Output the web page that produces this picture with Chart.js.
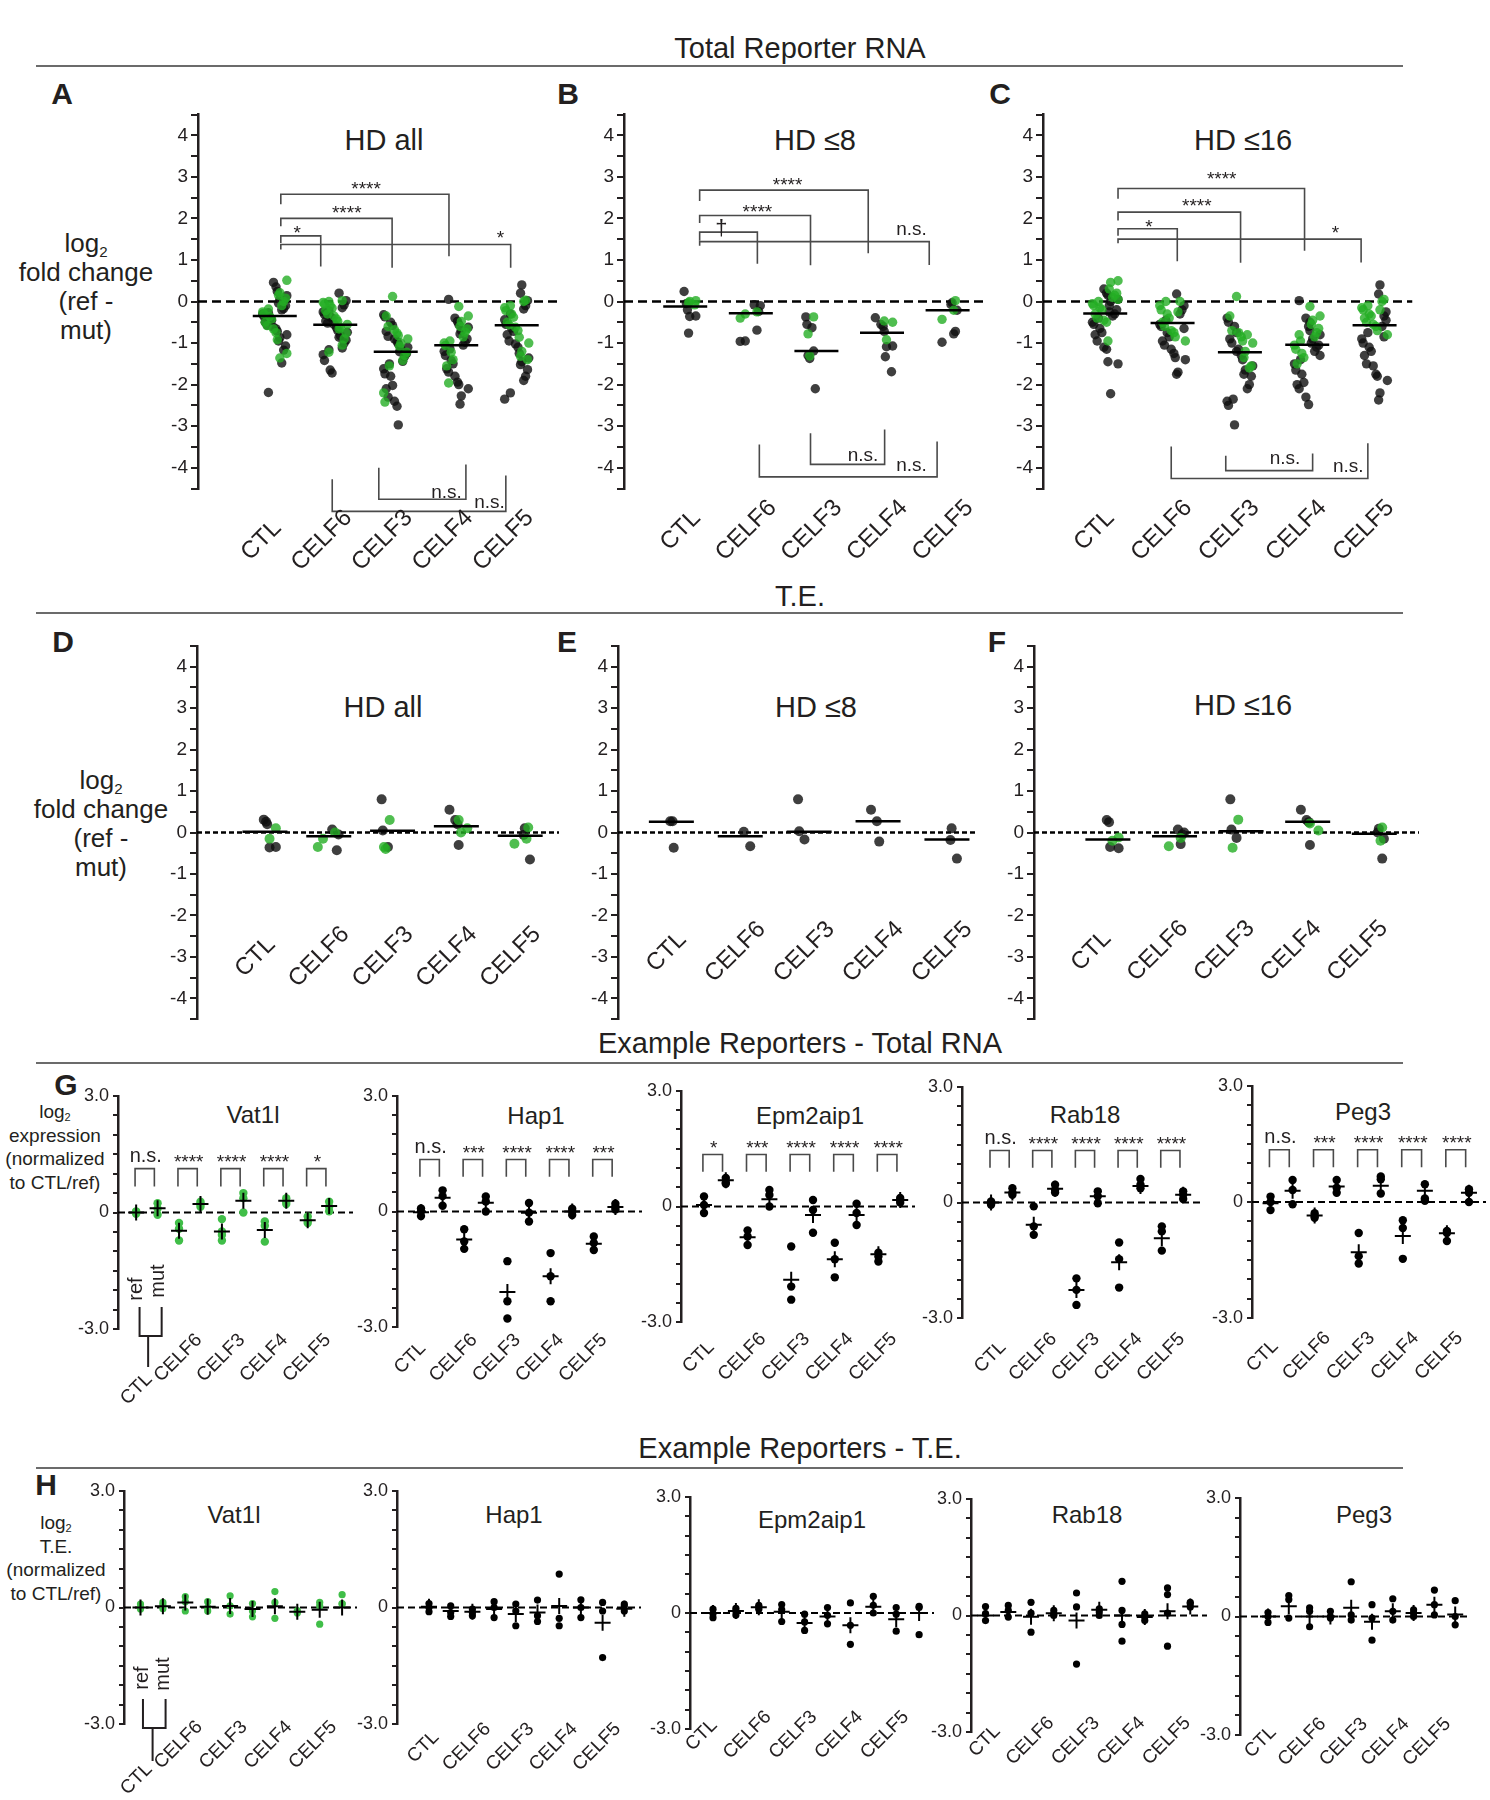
<!DOCTYPE html>
<html>
<head>
<meta charset="utf-8">
<title>CELF reporter fold changes</title>
<script src="https://cdn.jsdelivr.net/npm/chart.js@4.4.1/dist/chart.umd.min.js"></script>
<style>
  html, body { margin: 0; background: #fff; }
  #fig { position: relative; width: 1490px; height: 1800px; overflow: hidden;
         font-family: 'Liberation Sans', Arial, Helvetica, sans-serif; color: #231f20; }
  #fig canvas { position: absolute; }
  .t { position: absolute; white-space: nowrap; transform: translate(-50%, -50%); line-height: 1; }
  .hd { font-size: 29px; }
  .letter { font-size: 30px; font-weight: bold; }
  .ttl1 { font-size: 29px; }
  .ttl2 { font-size: 24px; }
  .rule { position: absolute; left: 36px; width: 1367px; height: 2px; background: #6b6b6b; }
  .ylab { position: absolute; text-align: center; transform: translateX(-50%); white-space: nowrap; }
  .ylab sub { font-size: 0.58em; vertical-align: -0.3em; line-height: 0; }
</style>
</head>
<body>
<div id="fig">
  <!-- section headers -->
  <div class="t hd" style="left:800px;top:48px">Total Reporter RNA</div>
  <div class="rule" style="top:65px"></div>
  <div class="t hd" style="left:800px;top:596px">T.E.</div>
  <div class="rule" style="top:612px"></div>
  <div class="t hd" style="left:800px;top:1043px">Example Reporters - Total RNA</div>
  <div class="rule" style="top:1062px"></div>
  <div class="t hd" style="left:800px;top:1448px">Example Reporters - T.E.</div>
  <div class="rule" style="top:1467px"></div>

  <!-- panel letters -->
  <div class="t letter" style="left:62px;top:94px">A</div>
  <div class="t letter" style="left:568px;top:94px">B</div>
  <div class="t letter" style="left:1000px;top:94px">C</div>
  <div class="t letter" style="left:63px;top:642px">D</div>
  <div class="t letter" style="left:567px;top:642px">E</div>
  <div class="t letter" style="left:997px;top:642px">F</div>
  <div class="t letter" style="left:66px;top:1085px">G</div>
  <div class="t letter" style="left:46px;top:1485px">H</div>

  <!-- y axis titles -->
  <div class="ylab" style="left:86px;top:229px;font-size:26px;line-height:29px">log<sub>2</sub><br>fold change<br>(ref -<br>mut)</div>
  <div class="ylab" style="left:101px;top:766px;font-size:26px;line-height:29px">log<sub>2</sub><br>fold change<br>(ref -<br>mut)</div>
  <div class="ylab" style="left:55px;top:1100px;font-size:19px;line-height:23.5px">log<sub>2</sub><br>expression<br>(normalized<br>to CTL/ref)</div>
  <div class="ylab" style="left:56px;top:1511px;font-size:19px;line-height:23.5px">log<sub>2</sub><br>T.E.<br>(normalized<br>to CTL/ref)</div>

  <!-- panel titles -->
  <div class="t ttl1" style="left:384px;top:140px">HD all</div>
  <div class="t ttl1" style="left:815px;top:140px">HD ≤8</div>
  <div class="t ttl1" style="left:1243px;top:140px">HD ≤16</div>
  <div class="t ttl1" style="left:383px;top:707px">HD all</div>
  <div class="t ttl1" style="left:816px;top:707px">HD ≤8</div>
  <div class="t ttl1" style="left:1243px;top:705px">HD ≤16</div>
  <div class="t ttl2" style="left:253px;top:1115px">Vat1l</div>
  <div class="t ttl2" style="left:536px;top:1116px">Hap1</div>
  <div class="t ttl2" style="left:810px;top:1116px">Epm2aip1</div>
  <div class="t ttl2" style="left:1085px;top:1115px">Rab18</div>
  <div class="t ttl2" style="left:1363px;top:1112px">Peg3</div>
  <div class="t ttl2" style="left:234px;top:1515px">Vat1l</div>
  <div class="t ttl2" style="left:514px;top:1515px">Hap1</div>
  <div class="t ttl2" style="left:812px;top:1520px">Epm2aip1</div>
  <div class="t ttl2" style="left:1087px;top:1515px">Rab18</div>
  <div class="t ttl2" style="left:1364px;top:1515px">Peg3</div>
</div>

<script>
/* ─── Data ──────────────────────────────────────────────────────────────────── */

const CATS = ['CTL', 'CELF6', 'CELF3', 'CELF4', 'CELF5'];

// Total reporter RNA, log2 fold change (ref - mut); one list per category
const A_BLACK = [
  [0.46, 0.35, 0.24, 0.14, 0.06, -0.04, -0.1, -0.17, -0.2, -0.27, -0.3, -0.36, -0.42, -0.45, -0.5, -0.57, -0.62, -0.66, -0.72, -0.8, -0.87, -0.95, -1.07, -1.17, -1.48, -2.19],
  [0.2, 0.02, -0.08, -0.15, -0.22, -0.25, -0.31, -0.37, -0.4, -0.47, -0.52, -0.55, -0.63, -0.7, -0.74, -0.82, -0.86, -0.93, -1.0, -1.12, -1.16, -1.28, -1.42, -1.65, -1.72],
  [-0.32, -0.37, -0.5, -0.58, -0.72, -0.84, -0.9, -0.96, -1.02, -1.1, -1.14, -1.21, -1.25, -1.32, -1.44, -1.5, -1.62, -1.74, -1.8, -2.02, -2.1, -2.3, -2.4, -2.52, -2.97],
  [0.05, -0.4, -0.48, -0.55, -0.62, -0.7, -0.78, -0.9, -0.98, -1.05, -1.14, -1.2, -1.3, -1.42, -1.5, -1.62, -1.7, -1.8, -1.94, -2.0, -2.1, -2.27, -2.47],
  [0.4, 0.2, 0.02, -0.1, -0.18, -0.3, -0.44, -0.55, -0.64, -0.72, -0.8, -0.95, -1.02, -1.1, -1.25, -1.36, -1.45, -1.52, -1.64, -1.8, -1.9, -2.2, -2.35]
];
const A_GREEN = [
  [0.51, 0.21, 0.15, 0.08, 0.0, -0.1, -0.18, -0.25, -0.3, -0.36, -0.42, -0.5, -0.58, -0.66, -0.75, -0.92, -1.25, -1.36],
  [0.02, 0.0, -0.02, -0.06, -0.1, -0.16, -0.22, -0.3, -0.35, -0.42, -0.48, -0.55, -0.62, -0.66, -0.76, -0.9, -1.05, -1.22],
  [0.12, -0.35, -0.6, -0.68, -0.76, -0.82, -0.9, -1.0, -1.08, -1.22, -1.3, -1.42, -1.55, -2.2, -2.42],
  [-0.12, -0.35, -0.48, -0.6, -0.66, -0.74, -0.85, -0.95, -1.0, -1.06, -1.22, -1.4, -1.55, -1.96],
  [0.03, 0.0, -0.1, -0.15, -0.22, -0.3, -0.38, -0.5, -0.56, -0.62, -0.7, -0.86, -1.0, -1.2, -1.32, -1.4]
];
const A_MEAN = [-0.35, -0.56, -1.21, -1.05, -0.57];
const A_SIG = ['*', '****', '****', '*'];          // CTL vs CELF6, CELF3, CELF4, CELF5
const A_SIG_LOW = ['n.s.', 'n.s.'];                 // CELF6-CELF5, CELF3-CELF4

const B_BLACK = [
  [0.24, -0.05, -0.2, -0.35, -0.36, -0.76],
  [-0.08, -0.1, -0.24, -0.69, -0.95, -0.96],
  [-0.37, -0.55, -0.63, -1.19, -1.3, -1.37, -2.1],
  [-0.39, -0.55, -0.6, -0.72, -1.07, -1.09, -1.33, -1.69],
  [-0.03, -0.07, -0.21, -0.72, -0.78, -0.98]
];
const B_GREEN = [
  [0.02, 0.0, -0.03, -0.08],
  [-0.25, -0.3, -0.4],
  [-0.37, -0.78, -1.31],
  [-0.47, -0.5, -0.92],
  [0.02, -0.21, -0.43]
];
const B_MEAN = [-0.12, -0.28, -1.19, -0.75, -0.21];
const B_SIG = ['†', '****', '****', 'n.s.'];
const B_SIG_LOW = ['n.s.', 'n.s.'];

const C_BLACK = [
  [0.3, 0.2, 0.15, 0.05, 0.0, -0.1, -0.2, -0.3, -0.35, -0.4, -0.5, -0.55, -0.65, -0.75, -0.8, -0.95, -1.1, -1.15, -1.45, -1.5, -2.22, -0.25],
  [0.18, -0.1, -0.2, -0.3, -0.45, -0.55, -0.6, -0.75, -0.85, -0.95, -1.05, -1.15, -1.25, -1.35, -1.4, -1.7, -1.75, -0.65],
  [-0.4, -0.5, -0.6, -0.75, -0.9, -1.0, -1.15, -1.3, -1.4, -1.55, -1.65, -1.75, -1.8, -2.0, -2.1, -2.35, -2.4, -2.5, -2.97, -1.2],
  [0.02, -0.4, -0.6, -0.7, -0.8, -0.9, -1.0, -1.05, -1.1, -1.2, -1.4, -1.5, -1.65, -1.75, -1.95, -2.0, -2.1, -2.3, -2.48, -0.5, -1.3],
  [0.4, 0.18, -0.25, -0.35, -0.6, -0.75, -0.9, -1.0, -1.1, -1.2, -1.3, -1.5, -1.55, -1.75, -1.8, -1.9, -2.2, -2.37, -0.45, -0.85]
];
const C_GREEN = [
  [0.5, 0.46, 0.3, 0.2, 0.15, 0.1, 0.0, -0.05, -0.1, -0.15, -0.2, -0.3, -0.4, -0.45, -0.5, -0.95, 0.05],
  [0.0, 0.0, -0.1, -0.2, -0.3, -0.4, -0.5, -0.6, -0.7, -0.75, -0.85, -0.95, -0.25],
  [0.12, -0.35, -0.7, -0.75, -0.85, -0.95, -1.0, -1.2, -1.35, -1.55, -1.6, -0.8],
  [-0.12, -0.35, -0.45, -0.55, -0.65, -0.75, -0.85, -0.95, -1.05, -1.15, -1.25, -1.35, -1.5, -0.8],
  [0.05, 0.0, -0.1, -0.15, -0.2, -0.3, -0.35, -0.4, -0.5, -0.55, -0.6, -0.7, -0.8, -0.2]
];
const C_MEAN = [-0.29, -0.52, -1.22, -1.04, -0.57];
const C_SIG = ['*', '****', '****', '*'];
const C_SIG_LOW = ['n.s.', 'n.s.'];

// Translation efficiency, log2 fold change (ref - mut)
const D_BLACK = [[0.31, 0.26, 0.2, -0.35, -0.36], [0.07, -0.05, -0.43], [0.8, 0.05, -0.35], [0.55, 0.3, 0.2, -0.3], [0.1, -0.06, -0.65]];
const D_GREEN = [[0.1, -0.15], [0.0, -0.15, -0.35], [0.3, -0.35, -0.4], [0.3, 0.1, 0.0], [0.12, -0.15, -0.27]];
const D_MEAN = [0.02, -0.09, 0.04, 0.15, -0.08];

const E_BLACK = [[0.27, 0.27, -0.37], [0.02, -0.33], [0.8, 0.03, -0.17], [0.55, 0.27, -0.22], [0.1, -0.18, -0.63]];
const E_GREEN = [[], [], [], [], []];
const E_MEAN = [0.26, -0.09, 0.02, 0.27, -0.17];

const F_BLACK = [[0.3, 0.25, -0.35, -0.38], [0.07, 0.0, -0.05, -0.28], [0.8, 0.07, -0.13], [0.55, 0.3, 0.25, -0.3], [0.09, 0.0, -0.15, -0.63]];
const F_GREEN = [[-0.12, -0.2], [-0.13, -0.33], [0.31, -0.37], [0.22, 0.05], [0.12, -0.2]];
const F_MEAN = [-0.17, -0.09, 0.03, 0.26, -0.03];

// Example reporters; groups in order CTL ref, CTL mut, CELF6 ref, CELF6 mut, ...
const G_VAT1L = [[0.03, 0, -0.03], [0.24, 0.1, -0.06], [-0.27, -0.42, -0.72], [0.28, 0.22, 0.15], [-0.17, -0.49, -0.58, -0.72], [0.5, 0.37, 0.0], [-0.23, -0.34, -0.75], [0.37, 0.28, 0.22], [-0.1, -0.21, -0.27], [0.28, 0.15, 0.03]];
const G_VAT1L_MEAN = [0, 0.11, -0.47, 0.22, -0.49, 0.3, -0.45, 0.3, -0.2, 0.17];
const G_HAP1 = [[0.08, 0.0, -0.12], [0.55, 0.4, 0.15], [-0.46, -0.78, -0.97], [0.39, 0.26, 0.0], [-1.29, -2.33, -2.78], [0.22, -0.03, -0.26], [-1.08, -1.68, -2.33], [0.07, 0.0, -0.09], [-0.65, -0.82, -1.0], [0.2, 0.12, 0.05]];
const G_HAP1_MEAN = [-0.02, 0.36, -0.73, 0.23, -2.09, -0.03, -1.68, 0.0, -0.84, 0.12];
const G_EPM = [[0.26, 0.04, -0.17], [0.74, 0.62, 0.59], [-0.62, -0.78, -1.0], [0.43, 0.3, 0.0], [-1.04, -2.08, -2.42], [0.17, -0.09, -0.68], [-0.94, -1.37, -1.84], [0.07, -0.17, -0.48], [-1.2, -1.3, -1.43], [0.22, 0.16, 0.1]];
const G_EPM_MEAN = [0.04, 0.68, -0.8, 0.19, -1.9, -0.22, -1.37, -0.22, -1.24, 0.17];
const G_RAB18 = [[0.03, -0.02, -0.06], [0.37, 0.26, 0.2], [-0.1, -0.62, -0.84], [0.46, 0.33, 0.26], [-1.97, -2.27, -2.66], [0.29, 0.16, -0.02], [-1.04, -1.47, -2.21], [0.61, 0.46, 0.37], [-0.62, -0.75, -1.25], [0.29, 0.2, 0.09]];
const G_RAB18_MEAN = [0, 0.26, -0.58, 0.36, -2.27, 0.16, -1.55, 0.43, -0.93, 0.2];
const G_PEG3 = [[0.14, 0, -0.21], [0.57, 0.31, -0.06], [-0.29, -0.36, -0.41], [0.57, 0.37, 0.24], [-0.8, -1.4, -1.59], [0.66, 0.59, 0.22], [-0.47, -0.67, -1.47], [0.46, 0.09, 0.03], [-0.75, -0.8, -1.01], [0.33, 0.24, 0]];
const G_PEG3_MEAN = [-0.03, 0.29, -0.35, 0.4, -1.3, 0.42, -0.88, 0.29, -0.81, 0.24];

const G_VAT1L_SIG = ['n.s.', '****', '****', '****', '*'];
const G_HAP1_SIG = ['n.s.', '***', '****', '****', '***'];
const G_EPM_SIG = ['*', '***', '****', '****', '****'];
const G_RAB18_SIG = ['n.s.', '****', '****', '****', '****'];
const G_PEG3_SIG = ['n.s.', '***', '****', '****', '****'];

const H_VAT1L = [[0.09, 0, -0.04], [0.13, 0.06, -0.03], [0.28, 0.15, -0.09], [0.15, 0, -0.09], [0.3, 0.04, -0.17], [0.1, -0.09, -0.24], [0.41, 0.13, -0.28], [-0.08, -0.11, -0.14], [0.13, 0.04, -0.43], [0.33, 0.1, 0.09]];
const H_VAT1L_MEAN = [0, 0.03, 0.13, 0.02, 0.04, -0.04, 0.03, -0.11, -0.06, 0];
const H_HAP1 = [[0.1, 0, -0.11], [0.04, -0.13, -0.23], [-0.04, -0.13, -0.21], [0.15, 0, -0.26], [0.09, -0.09, -0.47], [0.19, -0.21, -0.36], [0.86, -0.28, -0.47], [0.2, 0, -0.26], [0.13, -0.09, -1.29], [0.09, 0.04, -0.09]];
const H_HAP1_MEAN = [0.02, -0.09, -0.11, -0.04, -0.17, -0.13, 0.04, 0, -0.39, -0.03];
const H_EPM = [[0.1, -0.02, -0.12], [0.12, 0.05, -0.05], [0.2, 0.15, 0.1], [0.22, 0.09, -0.22], [-0.03, -0.23, -0.45], [0.14, -0.06, -0.28], [0.26, -0.32, -0.81], [0.43, 0.2, 0], [0.14, -0.03, -0.47], [0.17, 0.14, -0.56]];
const H_EPM_MEAN = [0, 0.05, 0.15, 0.03, -0.26, -0.09, -0.32, 0.16, -0.16, 0];
const H_RAB18 = [[0.23, 0.05, -0.13], [0.26, 0.13, -0.04], [0.34, 0.06, -0.43], [0.13, 0.04, 0], [0.58, 0.22, -1.25], [0.17, 0.09, 0], [0.88, 0.13, -0.23, -0.66], [0.04, -0.04, -0.13], [0.71, 0.54, 0.06, -0.79], [0.34, 0.3, 0.22]];
const H_RAB18_MEAN = [0, 0.09, -0.03, 0.06, -0.13, 0.15, 0, -0.04, 0.11, 0.23];
const H_PEG3 = [[0.1, 0, -0.15], [0.53, 0.43, -0.04], [0.22, 0.13, -0.26], [0.13, 0, -0.04], [0.88, 0.04, -0.09], [0.3, -0.04, -0.6], [0.45, 0.13, -0.09], [0.17, 0.09, 0], [0.67, 0.3, 0.04], [0.4, 0, -0.21]];
const H_PEG3_MEAN = [0, 0.26, 0, 0, 0.22, -0.13, 0.13, 0.09, 0.3, 0.05];

/* ─── Style / layout ────────────────────────────────────────────────────────── */

const FONT  = "'Liberation Sans', Arial, Helvetica, sans-serif";
const INK   = '#231f20';
const DARK  = 'rgba(15,15,15,0.8)';
const GREEN = 'rgba(36,174,36,0.8)';
const GREEN_SOLID = 'rgb(64,190,72)';
const BRACKET = '#4a4a4a';
const YW = 48, PT = 24, PR = 14;   // reserved y-axis width, top/right padding
const JIT = [-0.1, 0.7, -0.75, 0.3, -0.4, 0.95, -0.95, 0.1, 0.55, -0.6, 0.85, -0.25, 0.4, -0.85, 0.2, -0.5];

Chart.defaults.font.family = FONT;
Chart.defaults.color = INK;

// pixel geometry of each panel (axis x, plot right, top/bottom of y range, first category x, spacing)
const ROW1 = { top: 113.5, bottom: 488, ymin: -4.5, ymax: 4.5, pb: 110, r: 4.7, meanR: 22 };
const ROW2 = { top: 645, bottom: 1020, ymin: -4.5, ymax: 4.5, pb: 24, r: 5, meanR: 22.5 };
const GEO_A = { ...ROW1, axisX: 198,  right: 569,  x0: 277,  step: 62.25, spread: 0.21, labelDx: -0.22, labelDy: 52 };
const GEO_B = { ...ROW1, axisX: 624,  right: 996,  x0: 687,  step: 67.5,  spread: 0.17, labelDx: -0.07, labelDy: 42 };
const GEO_C = { ...ROW1, axisX: 1043, right: 1423, x0: 1107, step: 69.25, spread: 0.2,  labelDx: -0.16, labelDy: 42 };
const GEO_D = { ...ROW2, axisX: 197,  right: 570,  x0: 267,  step: 65.75, spread: 0.18, labelDx: -0.15, labelDy: -62 };
const GEO_E = { ...ROW2, axisX: 618,  right: 989,  x0: 673,  step: 71,    spread: 0.17, labelDx: -0.07, labelDy: -67 };
const GEO_F = { ...ROW2, axisX: 1034, right: 1430, x0: 1110, step: 68.5,  spread: 0.17, labelDx: -0.25, labelDy: -68 };

// significance brackets: [x1, x2, y, leg1 end, leg2 end, text x, text y] in axis units
const A_BR = [[0.1, 0.76, 1.58, 1.41, 0.84, 0.37, 1.77], [0.1, 1.94, 2.0, 1.81, 0.81, 1.19, 2.25],
              [0.1, 2.88, 2.58, 2.34, 1.09, 1.51, 2.84], [0.1, 3.9, 1.37, 1.25, 0.81, 3.73, 1.65]];
const A_BR_LOW = [[0.95, 3.82, -5.05, -4.28, -4.19, 3.55, -4.84], [1.72, 3.16, -4.76, -4.0, -3.92, 2.84, -4.6]];
const B_BR = [[0.22, 1.1, 1.67, 1.46, 0.91, 0.55, 1.77], [0.22, 1.91, 2.07, 1.89, 0.87, 1.1, 2.28],
              [0.22, 2.79, 2.68, 2.42, 1.16, 1.56, 2.93], [0.22, 3.72, 1.44, 1.34, 0.88, 3.45, 1.72]];
const B_BR_LOW = [[1.13, 3.84, -4.22, -3.44, -3.37, 3.45, -3.97], [1.91, 3.04, -3.92, -3.17, -3.08, 2.71, -3.72]];
const C_BR = [[0.19, 1.07, 1.75, 1.58, 0.97, 0.65, 1.92], [0.19, 2.01, 2.15, 1.95, 0.93, 1.36, 2.42],
              [0.19, 2.96, 2.72, 2.47, 1.22, 1.73, 3.07], [0.19, 3.8, 1.5, 1.4, 0.94, 3.42, 1.77]];
const C_BR_LOW = [[0.98, 3.9, -4.26, -3.49, -3.41, 3.61, -3.99], [1.79, 3.08, -4.07, -3.71, -3.66, 2.67, -3.78]];

const ROW3 = { ymin: -3, ymax: 3, pb: 100, r: 4.2, bTop: 1.35, bLeg: 0.9, bText: 1.66 };
const ROW4 = { ymin: -3, ymax: 3, pb: 68, r: 3.6 };
const KEY_G = { x1: 0.16, x2: 1.19, top: -22, join: 7, stem: 0.56, stemEnd: 38, refX: 0.02, refY: -40, mutX: 1.05, mutY: -48, ctlX: 0.02, ctlY: 60 };
const KEY_H = { x1: 0.11, x2: 1.12, top: -25, join: 4, stem: 0.54, stemEnd: 37, refX: 0.11, refY: -46, mutX: 1.03, mutY: -50, ctlX: -0.18, ctlY: 55 };

/* ─── Helpers ───────────────────────────────────────────────────────────────── */

const FIG = document.getElementById('fig');
const isWhole = v => Math.abs(v - Math.round(v)) < 1e-6;

function sigText(ctx, t, x, y, size) {
  ctx.font = `${size}px ${FONT}`;
  ctx.textAlign = 'center';
  ctx.textBaseline = 'alphabetic';
  const lift = t.includes('*') ? 0.58 : (t === '†' ? 0.3 : 0.26);
  ctx.fillText(t, x, y + lift * size);
}

// draws brackets, rotated category labels and the ref/mut key through the chart's scales
function annotPlugin(cfg) {
  return {
    id: 'annot',
    afterDatasetsDraw(chart) {
      const { ctx, chartArea: area } = chart;
      const xs = chart.scales.x, ys = chart.scales.y;
      const px = v => xs.getPixelForValue(v);
      const py = v => ys.getPixelForValue(v);
      ctx.save();
      ctx.fillStyle = INK;

      ctx.strokeStyle = BRACKET;
      ctx.lineWidth = 1.6;
      (cfg.brackets || []).forEach(b => {
        ctx.beginPath();
        ctx.moveTo(px(b.x1), py(b.y1));
        ctx.lineTo(px(b.x1), py(b.y));
        ctx.lineTo(px(b.x2), py(b.y));
        ctx.lineTo(px(b.x2), py(b.y2));
        ctx.stroke();
        sigText(ctx, b.label, px(b.tx), py(b.ty), b.label === 'n.s.' ? cfg.nsSize : (b.label === '†' ? 22 : cfg.starSize));
      });

      ctx.font = `${cfg.labelSize}px ${FONT}`;
      ctx.textAlign = 'center';
      ctx.textBaseline = 'middle';
      cfg.labels.forEach(l => {
        ctx.save();
        ctx.translate(px(l.x), area.bottom + l.dy);
        ctx.rotate(-Math.PI / 4);
        ctx.fillText(l.text, 0, 0);
        ctx.restore();
      });

      const k = cfg.key;
      if (k) {
        const b = area.bottom;
        ctx.strokeStyle = INK;
        ctx.lineWidth = 2;
        ctx.beginPath();
        ctx.moveTo(px(k.x1), b + k.top);
        ctx.lineTo(px(k.x1), b + k.join);
        ctx.lineTo(px(k.x2), b + k.join);
        ctx.lineTo(px(k.x2), b + k.top);
        ctx.moveTo(px(k.stem), b + k.join);
        ctx.lineTo(px(k.stem), b + k.stemEnd);
        ctx.stroke();
        ctx.font = `20px ${FONT}`;
        [['ref', k.refX, k.refY], ['mut', k.mutX, k.mutY]].forEach(([t, x, y]) => {
          ctx.save();
          ctx.translate(px(x), b + y);
          ctx.rotate(-Math.PI / 2);
          ctx.fillText(t, 0, 0);
          ctx.restore();
        });
      }
      ctx.restore();
    }
  };
}

function yAxis(geo, big) {
  return {
    min: geo.ymin,
    max: geo.ymax,
    afterFit: s => { s.width = YW; },
    ticks: {
      stepSize: 0.5,
      autoSkip: false,
      color: INK,
      padding: big ? 3 : 4,
      font: { size: big ? 19 : 18, family: FONT },
      callback: big
        ? (v => isWhole(v) ? String(Math.round(v)) : '')
        : (v => v === 0 ? '0' : (Math.abs(v) === 3 ? v.toFixed(1) : ''))
    },
    grid: { drawOnChartArea: false, drawTicks: true, tickLength: big ? 7 : 5, color: INK, lineWidth: 2 },
    border: { display: true, color: INK, width: 2.5 }
  };
}

function makeChart(geo, datasets, big, ann) {
  const cv = document.createElement('canvas');
  const left = geo.axisX - YW, top = geo.top - PT;
  const w = Math.round(geo.right + PR - left);
  const h = Math.round(geo.bottom + geo.pb - top);
  cv.width = w;  cv.height = h;
  cv.style.left = left + 'px';  cv.style.top = top + 'px';
  cv.style.width = w + 'px';    cv.style.height = h + 'px';
  FIG.appendChild(cv);

  return new Chart(cv, {
    type: 'scatter',
    data: { datasets },
    options: {
      responsive: false,
      animation: false,
      devicePixelRatio: 1,
      layout: { padding: { left: 0, top: PT, right: PR, bottom: h - (geo.bottom - top) } },
      plugins: { legend: { display: false }, tooltip: { enabled: false } },
      scales: {
        x: { type: 'linear', display: false, min: geo.xmin, max: geo.xmax },
        y: yAxis(geo, big)
      }
    },
    plugins: [annotPlugin(ann)]
  });
}

function zeroLine(geo, dash, width) {
  return {
    data: [{ x: geo.xmin, y: 0 }, { x: geo.xmax, y: 0 }],
    showLine: true, borderColor: '#000', borderWidth: width, borderDash: dash,
    pointRadius: 0, order: 5
  };
}

/* ─── Strip plots (panels A–F) ──────────────────────────────────────────────── */

function stripPanel(g, black, green, means, sig, br, sigLow, brLow, dash) {
  const geo = { ...g, xmin: (g.axisX - g.x0) / g.step, xmax: (g.right - g.x0) / g.step };
  const pts = (groups, phase) => groups.flatMap((vals, i) =>
    vals.map((y, k) => ({ x: i + geo.spread * JIT[(k * 7 + phase + i * 3) % JIT.length], y })));

  const datasets = [
    zeroLine(geo, dash, 2.5),
    { data: pts(black, 0), pointRadius: geo.r, pointBackgroundColor: DARK, pointBorderWidth: 0, order: 3 },
    { data: pts(green, 5), pointRadius: geo.r, pointBackgroundColor: GREEN, pointBorderWidth: 0, order: 2 },
    { data: means.map((m, i) => ({ x: i, y: m })), pointStyle: 'line', pointRadius: geo.meanR,
      pointBorderWidth: 2.5, pointBorderColor: '#000', pointBackgroundColor: '#000', order: 1 }
  ];

  const brackets = [];
  (br || []).forEach((b, j) => brackets.push({ x1: b[0], x2: b[1], y: b[2], y1: b[3], y2: b[4], tx: b[5], ty: b[6], label: sig[j] }));
  (brLow || []).forEach((b, j) => brackets.push({ x1: b[0], x2: b[1], y: b[2], y1: b[3], y2: b[4], tx: b[5], ty: b[6], label: sigLow[j] }));

  makeChart(geo, datasets, true, {
    brackets, starSize: 19, nsSize: 19, labelSize: 24,
    labels: CATS.map((t, i) => ({ text: t, x: i + geo.labelDx, dy: geo.labelDy }))
  });
}

stripPanel(GEO_A, A_BLACK, A_GREEN, A_MEAN, A_SIG, A_BR, A_SIG_LOW, A_BR_LOW, [9, 5]);
stripPanel(GEO_B, B_BLACK, B_GREEN, B_MEAN, B_SIG, B_BR, B_SIG_LOW, B_BR_LOW, [9, 5]);
stripPanel(GEO_C, C_BLACK, C_GREEN, C_MEAN, C_SIG, C_BR, C_SIG_LOW, C_BR_LOW, [9, 5]);
stripPanel(GEO_D, D_BLACK, D_GREEN, D_MEAN, [], null, [], null, [5, 3]);
stripPanel(GEO_E, E_BLACK, E_GREEN, E_MEAN, [], null, [], null, [5, 3]);
stripPanel(GEO_F, F_BLACK, F_GREEN, F_MEAN, [], null, [], null, [5, 3]);

/* ─── Paired ref / mut plots (panels G, H) ──────────────────────────────────── */

function pairPanel(g, groups, means, sig, color, key) {
  const geo = { ...g, xmin: (g.axisX - g.x0) / g.step, xmax: (g.right - g.x0) / g.step };
  const datasets = [
    zeroLine(geo, [7, 4], 2),
    { data: groups.flatMap((vals, j) => vals.map(y => ({ x: j, y }))), pointRadius: geo.r,
      pointBackgroundColor: color, pointBorderWidth: 0, order: 2 },
    { data: means.map((m, j) => ({ x: j, y: m })), pointStyle: 'cross', pointRadius: 8,
      pointBorderWidth: 2, pointBorderColor: '#000', order: 1 }
  ];
  const brackets = (sig || []).map((s, k) => ({
    x1: 2 * k - 0.05, x2: 2 * k + 0.85, y: geo.bTop, y1: geo.bLeg, y2: geo.bLeg,
    tx: 2 * k + 0.45, ty: geo.bText, label: s
  }));
  const labels = CATS.map((t, k) => ({ text: t, x: 2 * k + geo.labelDx, dy: geo.labelDy }));
  if (key) labels[0] = { text: CATS[0], x: key.ctlX, dy: key.ctlY };
  makeChart(geo, datasets, false, { brackets, starSize: 19, nsSize: 20, labelSize: 19, labels, key });
}

pairPanel({ ...ROW3, axisX: 117.5, right: 352, top: 1096, bottom: 1329, x0: 135.6, step: 21.4, labelDx: -0.04, labelDy: 29,
            bTop: 1.13, bLeg: 0.67, bText: 1.44 }, G_VAT1L, G_VAT1L_MEAN, G_VAT1L_SIG, GREEN_SOLID, KEY_G);
pairPanel({ ...ROW3, axisX: 397, right: 642, top: 1096, bottom: 1327, x0: 421, step: 21.6, labelDx: -0.5, labelDy: 31 },
          G_HAP1, G_HAP1_MEAN, G_HAP1_SIG, '#000');
pairPanel({ ...ROW3, axisX: 681, right: 915, top: 1091, bottom: 1322, x0: 704, step: 21.8, labelDx: -0.25, labelDy: 35 },
          G_EPM, G_EPM_MEAN, G_EPM_SIG, '#000');
pairPanel({ ...ROW3, axisX: 961.5, right: 1199, top: 1087, bottom: 1318, x0: 990.5, step: 21.3, labelDx: -0.04, labelDy: 39 },
          G_RAB18, G_RAB18_MEAN, G_RAB18_SIG, '#000');
pairPanel({ ...ROW3, axisX: 1251.5, right: 1485, top: 1086, bottom: 1318, x0: 1270, step: 22, labelDx: -0.36, labelDy: 38 },
          G_PEG3, G_PEG3_MEAN, G_PEG3_SIG, '#000');

pairPanel({ ...ROW4, pb: 78, axisX: 123.5, right: 356.5, top: 1491, bottom: 1724, x0: 140, step: 22.4, labelDx: -0.3, labelDy: 21 },
          H_VAT1L, H_VAT1L_MEAN, null, GREEN_SOLID, KEY_H);
pairPanel({ ...ROW4, axisX: 397, right: 641, top: 1491, bottom: 1724, x0: 429, step: 21.7, labelDx: -0.26, labelDy: 23 },
          H_HAP1, H_HAP1_MEAN, null, '#000');
pairPanel({ ...ROW4, axisX: 690, right: 934, top: 1497, bottom: 1729, x0: 713, step: 22.9, labelDx: -0.5, labelDy: 6 },
          H_EPM, H_EPM_MEAN, null, '#000');
pairPanel({ ...ROW4, axisX: 971, right: 1206.5, top: 1499, bottom: 1732, x0: 985.5, step: 22.7, labelDx: -0.04, labelDy: 9 },
          H_RAB18, H_RAB18_MEAN, null, '#000');
pairPanel({ ...ROW4, axisX: 1240, right: 1470, top: 1498, bottom: 1735, x0: 1268, step: 20.8, labelDx: -0.36, labelDy: 7 },
          H_PEG3, H_PEG3_MEAN, null, '#000');
</script>
</body>
</html>
